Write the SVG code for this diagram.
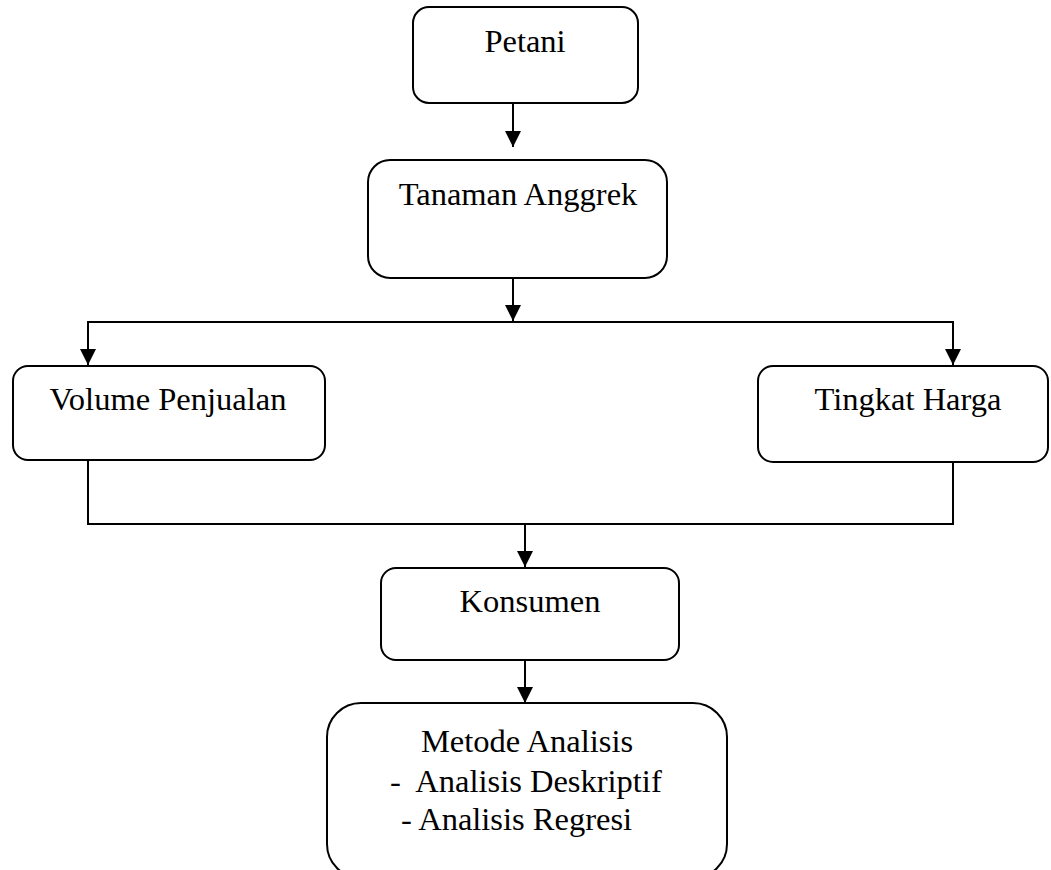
<svg xmlns="http://www.w3.org/2000/svg" width="1051" height="870" viewBox="0 0 1051 870">
<defs>
<style>
.box{fill:#fff;stroke:#000;stroke-width:2}
.ln{fill:none;stroke:#000;stroke-width:2}
.t{font-family:"Liberation Serif","Times New Roman",serif;font-size:32.5px;fill:#000}
.c{text-anchor:middle}
</style>
<marker id="ah" viewBox="0 0 10 10" refX="10" refY="5" markerWidth="16" markerHeight="16" markerUnits="userSpaceOnUse" orient="auto">
<path d="M0,0 L10,5 L0,10 Z" fill="#000"/>
</marker>
</defs>
<rect width="1051" height="870" fill="#fff"/>
<g id="connectors">
<line class="ln" x1="513" y1="103" x2="513" y2="147" marker-end="url(#ah)"/>
<line class="ln" x1="513" y1="278" x2="513" y2="321" marker-end="url(#ah)"/>
<polyline class="ln" points="88,365 88,322 953,322 953,365"/>
<path d="M80,349 L96,349 L88,365 Z" fill="#000"/>
<path d="M945,349 L961,349 L953,365 Z" fill="#000"/>
<polyline class="ln" points="88,460 88,524 953,524 953,460"/>
<line class="ln" x1="525" y1="524" x2="525" y2="567" marker-end="url(#ah)"/>
<line class="ln" x1="525" y1="660" x2="525" y2="703" marker-end="url(#ah)"/>
</g>
<g id="petani">
<rect class="box" x="413" y="7" width="225" height="96" rx="16"/>
<text class="t c" x="525" y="52">Petani</text>
</g>
<g id="tanaman">
<rect class="box" x="368" y="160" width="299" height="118" rx="22"/>
<text class="t c" x="518" y="205">Tanaman Anggrek</text>
</g>
<g id="volume">
<rect class="box" x="13" y="366" width="312" height="94" rx="15"/>
<text class="t c" x="168" y="410">Volume Penjualan</text>
</g>
<g id="tingkat">
<rect class="box" x="758" y="366" width="290" height="96" rx="15"/>
<text class="t c" x="908" y="410">Tingkat Harga</text>
</g>
<g id="konsumen">
<rect class="box" x="381" y="568" width="298" height="92" rx="15"/>
<text class="t c" x="530" y="612">Konsumen</text>
</g>
<g id="metode">
<rect class="box" x="327" y="703" width="400" height="175" rx="34"/>
<text class="t c" x="527" y="752">Metode Analisis</text>
<text class="t" x="390" y="792" xml:space="preserve">-  Analisis Deskriptif</text>
<text class="t" x="401" y="830">- Analisis Regresi</text>
</g>
</svg>
